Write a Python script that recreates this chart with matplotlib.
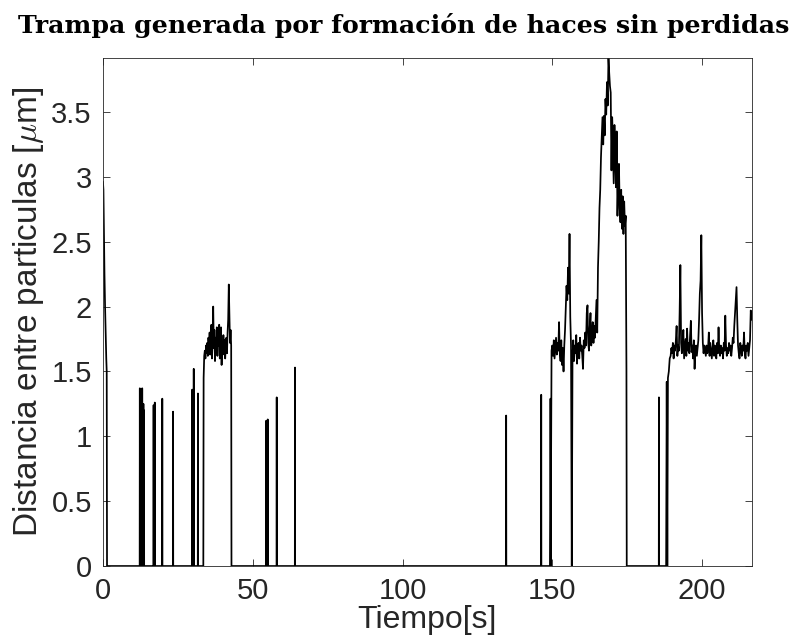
import numpy as np
import matplotlib
matplotlib.use("Agg")
import matplotlib.pyplot as plt

plt.rcParams['font.family'] = ['Liberation Sans', 'DejaVu Sans']
plt.rcParams['mathtext.fontset'] = 'cm'

# arranque: caida desde ~2.95 um
t_inicio = [0.0, 0.15, 0.3, 0.5, 0.7, 0.9, 1.1, 1.25]
d_inicio = [2.96, 2.90, 2.60, 2.25, 2.00, 1.80, 1.60, 1.50]

# picos aislados (tiempo [s], altura [um])
pico_t = [12.3, 12.6, 13.1, 13.5, 13.7, 16.9, 17.3, 19.8, 23.4, 29.8, 30.3, 31.7,
          54.5, 55.0, 58.0, 64.1, 134.6, 146.3, 149.4, 185.6]
pico_h = [1.37, 1.36, 1.37, 1.25, 1.20, 1.24, 1.26, 1.29, 1.19, 1.36, 1.52, 1.33,
          1.12, 1.13, 1.30, 1.53, 1.16, 1.32, 1.29, 1.30]

# meseta 1: 33.6 s a 42.8 s, cada 0.2 s
meseta1_t0, meseta1_paso = 33.6, 0.2
meseta1_d = [1.45, 1.62, 1.66, 1.60, 1.70, 1.64, 1.72, 1.62, 1.76, 1.68,
             1.80, 1.63, 1.78, 1.86, 1.60, 1.74, 2.00, 1.68, 1.82, 1.58,
             1.76, 1.66, 1.84, 1.62, 1.80, 1.70, 1.86, 1.60, 1.74, 1.84,
             1.55, 1.72, 1.63, 1.78, 1.66, 1.74, 1.60, 1.70, 1.76, 1.64,
             1.80, 1.90, 2.17, 1.95, 1.72, 1.82, 1.70]

# meseta 2: 149.75 s a 174.75 s, cada 0.25 s
meseta2_t0, meseta2_paso = 149.75, 0.25
meseta2_d = [1.66, 1.70, 1.62, 1.74, 1.60, 1.68, 1.76, 1.63,
             1.72, 1.66, 1.88, 1.64, 1.58, 1.74, 1.55, 1.68,
             1.50, 1.70, 1.82, 1.98, 2.16, 2.05, 2.30, 2.10,
             2.56, 1.92, 1.70, 0.00, 1.62, 1.74, 1.58, 1.70,
             1.64, 1.78, 1.56, 1.68, 1.72, 1.60, 1.76, 1.66,
             1.70, 1.62, 1.52, 1.74, 1.68, 1.80, 1.70, 1.95,
             2.01, 1.72, 1.66, 1.84, 1.95, 1.70, 1.78, 1.88,
             1.72, 1.85, 1.76, 1.90, 2.05, 1.80, 2.30, 2.50,
             2.76, 2.90, 3.15, 3.30, 3.46, 3.25, 3.47, 3.32,
             3.60, 3.48, 3.73, 3.55, 3.92, 3.80, 3.70, 3.65,
             3.05, 3.46, 3.20, 2.95, 3.40, 3.19, 2.92, 3.35,
             2.70, 2.97, 3.10, 2.76, 2.65, 2.90, 2.60, 2.85,
             2.56, 2.81, 2.62, 2.70, 1.52]

# entrada a la meseta 3
t_subida = [188.0, 188.2, 188.4, 188.6, 188.9, 189.2]
d_subida = [0.00, 1.42, 0.00, 1.45, 1.50, 1.60]

# meseta 3: 189.5 s a 216.5 s, cada 0.25 s
meseta3_t0, meseta3_paso = 189.5, 0.25
meseta3_d = [1.62, 1.68, 1.64, 1.72, 1.60, 1.70, 1.66, 1.74,
             1.85, 1.62, 1.70, 1.66, 1.95, 2.32, 1.72, 1.64,
             1.70, 1.82, 1.60, 1.68, 1.75, 1.62, 1.83, 1.66,
             1.72, 1.64, 1.78, 1.89, 1.65, 1.70, 1.60, 1.74,
             1.52, 1.66, 1.70, 1.62, 1.68, 1.74, 1.90, 2.10,
             2.20, 2.55, 1.95, 1.72, 1.64, 1.70, 1.66, 1.62,
             1.70, 1.64, 1.68, 1.80, 1.62, 1.72, 1.66, 1.60,
             1.68, 1.74, 1.62, 1.70, 1.66, 1.60, 1.72, 1.64,
             1.84, 1.66, 1.62, 1.70, 1.64, 1.68, 1.60, 1.72,
             1.66, 1.93, 1.70, 1.62, 1.68, 1.64, 1.72, 1.66,
             1.70, 1.62, 1.68, 1.76, 1.72, 1.85, 1.95, 2.05,
             2.15, 1.90, 1.70, 1.64, 1.60, 1.72, 1.68, 1.62,
             1.70, 1.66, 1.80, 1.64, 1.60, 1.70, 1.66, 1.72,
             1.62, 1.68, 1.74, 1.97, 1.90]

t_max = 216.6


def meseta(t0, paso, d):
    t = t0 + paso * np.arange(len(d))
    return list(t), list(d)


# armar la serie completa (cero entre tramos)
puntos = []
puntos += list(zip(t_inicio, d_inicio)) + [(1.35, 0.0)]
for t, h in zip(pico_t, pico_h):
    puntos += [(t - 0.05, 0.0), (t, h), (t + 0.05, 0.0)]
tt, dd = meseta(meseta1_t0, meseta1_paso, meseta1_d)
puntos += [(meseta1_t0 - 0.1, 0.0)] + list(zip(tt, dd)) + [(tt[-1] + 0.1, 0.0)]
tt, dd = meseta(meseta2_t0, meseta2_paso, meseta2_d)
puntos += list(zip(tt, dd)) + [(tt[-1] + 0.1, 0.0)]
puntos += list(zip(t_subida, d_subida))
tt, dd = meseta(meseta3_t0, meseta3_paso, meseta3_d)
puntos += list(zip(tt, dd))
puntos.sort(key=lambda p: p[0])
t_all = [p[0] for p in puntos]
d_all = [p[1] for p in puntos]

fig = plt.figure(figsize=(8.07, 6.39), dpi=100)
ax = fig.add_axes([0.1276, 0.1142, 0.804, 0.7958])
ax.plot(t_all, d_all, color='black', lw=1.25)

ax.set_xlim(0, t_max)
ax.set_ylim(0, 3.92)
ax.set_xticks([0, 50, 100, 150, 200])
ax.set_yticks([0, 0.5, 1, 1.5, 2, 2.5, 3, 3.5])
ax.set_yticklabels(['0', '0.5', '1', '1.5', '2', '2.5', '3', '3.5'])
ax.tick_params(direction='in', top=True, right=True, length=5, width=0.6,
               colors='#262626', labelsize=21)
ax.tick_params(axis='x', pad=8)
ax.tick_params(axis='y', pad=8)
for s in ax.spines.values():
    s.set_color('#262626')
    s.set_linewidth(0.6)

ax.set_xlabel('Tiempo[s]', fontsize=23, color='#262626', labelpad=0)
ax.set_ylabel(r'Distancia entre particulas [$\mu$m]', fontsize=24, color='#262626', labelpad=4)
fig.text(0.5, 1 - 33 / 639, 'Trampa generada por formación de haces sin perdidas',
         ha='center', va='baseline', fontsize=18.2, fontweight='bold',
         family=['DejaVu Serif'])

fig.savefig('out.png', dpi=100)
